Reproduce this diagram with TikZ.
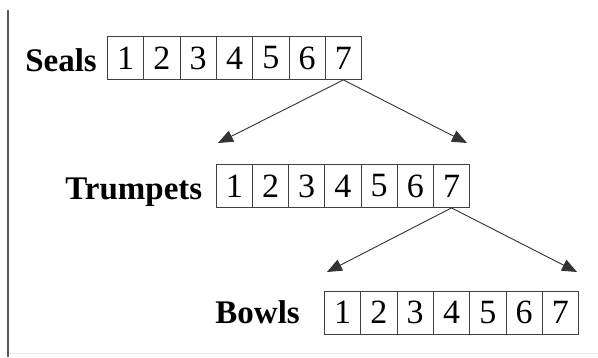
\documentclass[tikz,border=0pt]{standalone}
\usepackage{fontspec}
\setmainfont{Liberation Serif}
\usetikzlibrary{arrows.meta}
\begin{document}
\begin{tikzpicture}[x=1pt,y=-1pt,
  cell/.style={draw=black!75, line width=0.9pt, rectangle, anchor=north west,
    minimum width=36.3pt, minimum height=43pt, inner sep=0pt,
    font=\fontsize{34}{36}\selectfont},
  rowlabel/.style={anchor=base east, inner sep=0pt,
    font=\fontsize{33}{36}\selectfont\bfseries},
  arr/.style={draw=black!80, line width=0.9pt,
    -{Triangle[length=15pt,width=12pt]}}]
\useasboundingbox (0,0) rectangle (598,357);
\fill[white] (0,0) rectangle (598,357);
\draw[black!65, line width=2pt] (7.5,10) -- (7.5,357);
\draw[black!8, line width=0.8pt] (9,353) -- (598,353);
% rows
\foreach \i in {1,...,7} {
  \node[cell] (s\i) at ({107+(\i-1)*36.3},36) {\i};
  \node[cell] (t\i) at ({215.7+(\i-1)*36.2},164) {\i};
  \node[cell] (b\i) at ({324+(\i-1)*36.3},290.5) {\i};
}
\node[rowlabel] (ls) at (97,71) {Seals};
\node[rowlabel] (lt) at (202.5,199) {Trumpets};
\node[rowlabel] (lb) at (300,323) {Bowls};
% arrow targets
\coordinate (sa) at (218,143);
\coordinate (sb) at (467,143);
\coordinate (ta) at (327,272);
\coordinate (tb) at (577,272);
\draw[arr] (s7.south) -- (sa);
\draw[arr] (s7.south) -- (sb);
\draw[arr] (t7.south) -- (ta);
\draw[arr] (t7.south) -- (tb);
\end{tikzpicture}
\end{document}
